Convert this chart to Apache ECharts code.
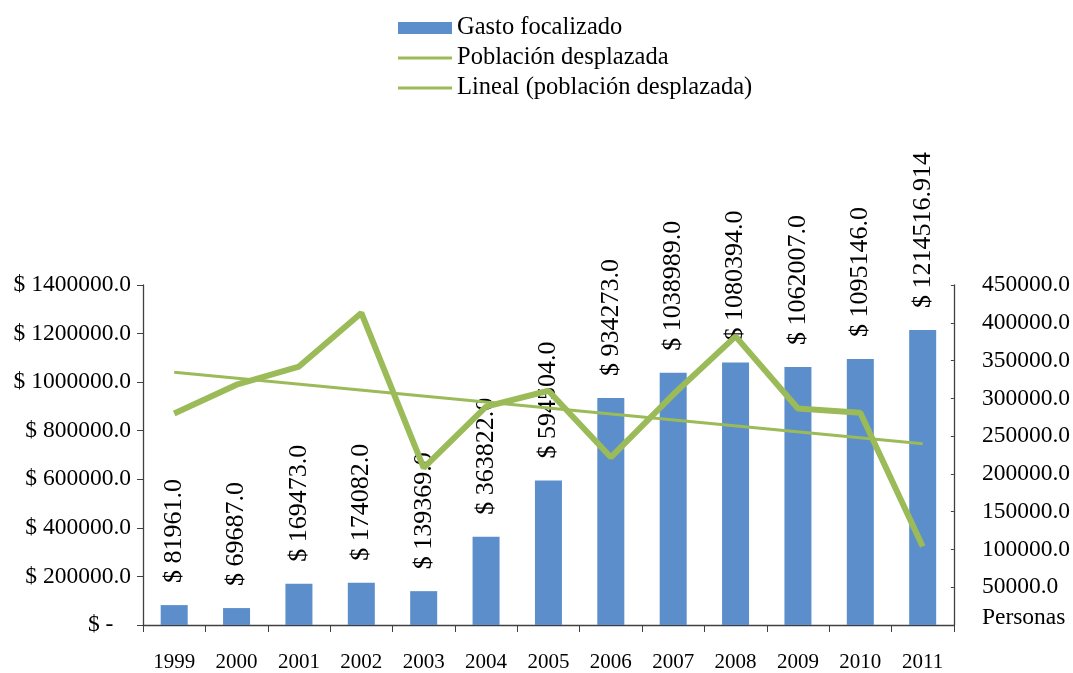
<!DOCTYPE html>
<html>
<head>
<meta charset="utf-8">
<script src="https://cdn.jsdelivr.net/npm/echarts@6/dist/echarts.min.js"></script>
<style>
  html, body { margin: 0; padding: 0; background: #fff; }
  #main { width: 1073px; height: 673px; }
</style>
</head>
<body>
<div id="main"></div>
<script>
// datos del grafico
var years = ['1999', '2000', '2001', '2002', '2003', '2004', '2005', '2006', '2007', '2008', '2009', '2010', '2011'];
var gasto = [81961, 69687, 169473, 174082, 139369, 363822, 594504, 934273, 1038989, 1080394, 1062007, 1095146, 1214516.914];
var poblacion = [280000, 318000, 342000, 413000, 208000, 289000, 310000, 222000, 305000, 382000, 286500, 281000, 104000];
// tendencia lineal: solo extremos
var lineal = [334500, null, null, null, null, null, null, null, null, null, null, null, 240000];

var font = 'Liberation Serif';
var verde = '#9bbb59';
var azul = '#5b8ecb';
var eje = '#404040';
var lineIcon = 'path://M0,0H54V3H0Z';

var chart = echarts.init(document.getElementById('main'));

var option = {
  backgroundColor: '#fff',
  textStyle: { fontFamily: font, color: '#000' },
  animation: false,
  legend: {
    orient: 'vertical',
    left: 393,
    top: 10,
    itemWidth: 54,
    itemHeight: 12,
    itemGap: 4,
    textStyle: { fontFamily: font, fontSize: 24.5, color: '#000', lineHeight: 26 },
    data: [
      { name: 'Gasto focalizado', icon: 'rect' },
      { name: 'Población desplazada', icon: lineIcon },
      { name: 'Lineal (población desplazada)', icon: lineIcon }
    ]
  },
  grid: { left: 143, right: 119, top: 285, bottom: 44 },
  xAxis: {
    type: 'category',
    data: years,
    axisLine: { lineStyle: { color: eje, width: 1.3 } },
    axisTick: { show: true, length: 7, lineStyle: { color: eje } },
    axisLabel: { fontFamily: font, fontSize: 21, color: '#000', margin: 27 }
  },
  yAxis: [
    {
      type: 'value',
      min: 0,
      max: 1400000,
      interval: 200000,
      splitLine: { show: false },
      axisLine: { show: true, lineStyle: { color: eje, width: 1.3 } },
      axisTick: { show: true, length: 6, lineStyle: { color: eje } },
      axisLabel: {
        fontFamily: font, fontSize: 23.5, color: '#000', margin: 12,
        formatter: function (v) {
          if (v === 0) return '$ -   ';
          return '$ ' + v.toFixed(1);
        }
      }
    },
    {
      type: 'value',
      min: 0,
      max: 450000,
      interval: 50000,
      position: 'right',
      splitLine: { show: false },
      axisLine: { show: true, lineStyle: { color: eje, width: 1.3 } },
      axisTick: { show: true, inside: true, length: 3, lineStyle: { color: eje } },
      axisLabel: {
        fontFamily: font, fontSize: 23.5, color: '#000', margin: 28,
        formatter: function (v) {
          if (v === 0) return '{p|Personas}';
          return v.toFixed(1);
        },
        rich: {
          p: { fontFamily: font, fontSize: 23.5, color: '#000', padding: [0, 0, 14, 0] }
        }
      }
    }
  ],
  series: [
    {
      name: 'Gasto focalizado',
      type: 'bar',
      data: gasto,
      barWidth: 27,
      itemStyle: { color: azul },
      label: {
        show: true,
        position: 'top',
        rotate: 90,
        align: 'left',
        verticalAlign: 'middle',
        distance: 22,
        fontFamily: font,
        fontSize: 26,
        color: '#000',
        formatter: function (p) {
          var v = p.value;
          return '$ ' + (Number.isInteger(v) ? v.toFixed(1) : String(v));
        }
      }
    },
    {
      name: 'Población desplazada',
      type: 'line',
      yAxisIndex: 1,
      data: poblacion,
      symbol: 'none',
      z: 5,
      lineStyle: { color: verde, width: 6 },
      itemStyle: { color: verde }
    },
    {
      name: 'Lineal (población desplazada)',
      type: 'line',
      yAxisIndex: 1,
      data: lineal,
      connectNulls: true,
      symbol: 'none',
      z: 4,
      lineStyle: { color: verde, width: 3 },
      itemStyle: { color: verde }
    }
  ]
};

chart.setOption(option);
</script>
</body>
</html>
